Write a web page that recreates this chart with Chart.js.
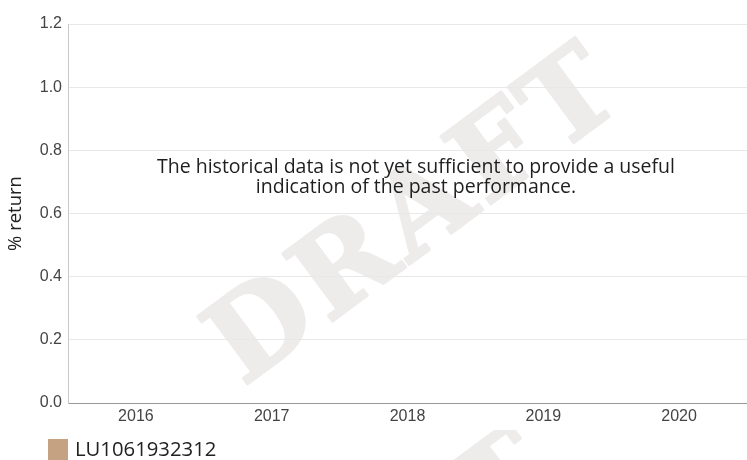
<!DOCTYPE html>
<html>
<head>
<meta charset="utf-8">
<script src="https://cdn.jsdelivr.net/npm/chart.js@4"></script>
<style>
html,body{margin:0;padding:0;background:#fff;}
#wrap{width:747px;height:460px;position:relative;}
</style>
</head>
<body>
<div id="wrap"><canvas id="c" width="747" height="460"></canvas></div>
<script>
const categories = ['2016', '2017', '2018', '2019', '2020'];
const seriesName = 'LU1061932312';
const seriesValues = [null, null, null, null, null];
const seriesColor = '#c4a282';
const yTicks = [0, 0.2, 0.4, 0.6, 0.8, 1.0, 1.2];
const axisTitle = '% return';
const messageLines = ['The historical data is not yet sufficient to provide a useful', 'indication of the past performance.'];
const watermarkText = 'DRAFT';

const watermarkPlugin = {
  id: 'watermark',
  beforeDraw(chart) {
    const ctx = chart.ctx;
    const drawWord = (cx, cy) => {
      ctx.save();
      ctx.translate(cx, cy);
      ctx.rotate(-36.5 * Math.PI / 180);
      ctx.font = 'bold 115px "DejaVu Serif", serif';
      try { ctx.letterSpacing = '6px'; } catch (e) {}
      ctx.textAlign = 'center';
      ctx.textBaseline = 'alphabetic';
      ctx.fillStyle = '#eeebeb';
      ctx.strokeStyle = '#eeebeb';
      ctx.lineWidth = 3;
      ctx.lineJoin = 'round';
      ctx.strokeText(watermarkText, 0, 42);
      ctx.fillText(watermarkText, 0, 42);
      ctx.restore();
    };
    ctx.save();
    ctx.beginPath();
    ctx.rect(0, 0, chart.width, chart.chartArea.bottom + 1);
    ctx.rect(0, 430, chart.width, chart.height - 430);
    ctx.clip();
    drawWord(412, 210);
    drawWord(345, 594);
    ctx.restore();
  }
};

const messagePlugin = {
  id: 'message',
  afterDraw(chart) {
    const ctx = chart.ctx;
    ctx.save();
    ctx.font = '19.5px "Open Sans"';
    ctx.fillStyle = '#1e1e1e';
    ctx.textAlign = 'center';
    ctx.textBaseline = 'middle';
    ctx.fillText(messageLines[0], 416, 167);
    ctx.fillText(messageLines[1], 416, 187);
    ctx.restore();
  }
};

const legendPlugin = {
  id: 'customLegend',
  afterDraw(chart) {
    const ctx = chart.ctx;
    const ds = chart.data.datasets[0];
    ctx.save();
    ctx.fillStyle = ds.backgroundColor;
    ctx.fillRect(48, 439, 20, 21);
    ctx.font = '20.3px "Open Sans"';
    ctx.fillStyle = '#222';
    ctx.textAlign = 'left';
    ctx.textBaseline = 'middle';
    ctx.fillText(ds.label, 75, 450);
    ctx.restore();
  }
};

new Chart(document.getElementById('c'), {
  type: 'bar',
  data: {
    labels: categories,
    datasets: [{ label: seriesName, data: seriesValues, backgroundColor: seriesColor }]
  },
  options: {
    responsive: false,
    animation: false,
    layout: { padding: { top: 24, right: 0, left: 0, bottom: 0 } },
    plugins: { legend: { display: false }, tooltip: { enabled: false } },
    scales: {
      x: {
        offset: true,
        grid: { display: false, drawTicks: false },
        border: { display: true, color: '#999999', width: 1 },
        ticks: { color: '#444', font: { family: 'Liberation Sans', size: 16 }, padding: 4, maxRotation: 0 },
        afterFit(s) { s.height = 57; }
      },
      y: {
        min: 0, max: 1.2,
        afterBuildTicks(s) { s.ticks = yTicks.map(v => ({ value: v })); },
        grid: { color: '#e8e8e8', drawTicks: false },
        border: { display: true, color: '#c8c8c8', width: 1 },
        ticks: { color: '#444', font: { family: 'Liberation Sans', size: 16 }, padding: 6, callback: v => Number(v).toFixed(1) },
        title: { display: true, text: axisTitle, color: '#222', font: { family: 'Open Sans', size: 18.5 }, padding: { top: 5, bottom: 0 } },
        afterFit(s) { s.width = 68; }
      }
    }
  },
  plugins: [watermarkPlugin, messagePlugin, legendPlugin]
});
</script>
</body>
</html>
